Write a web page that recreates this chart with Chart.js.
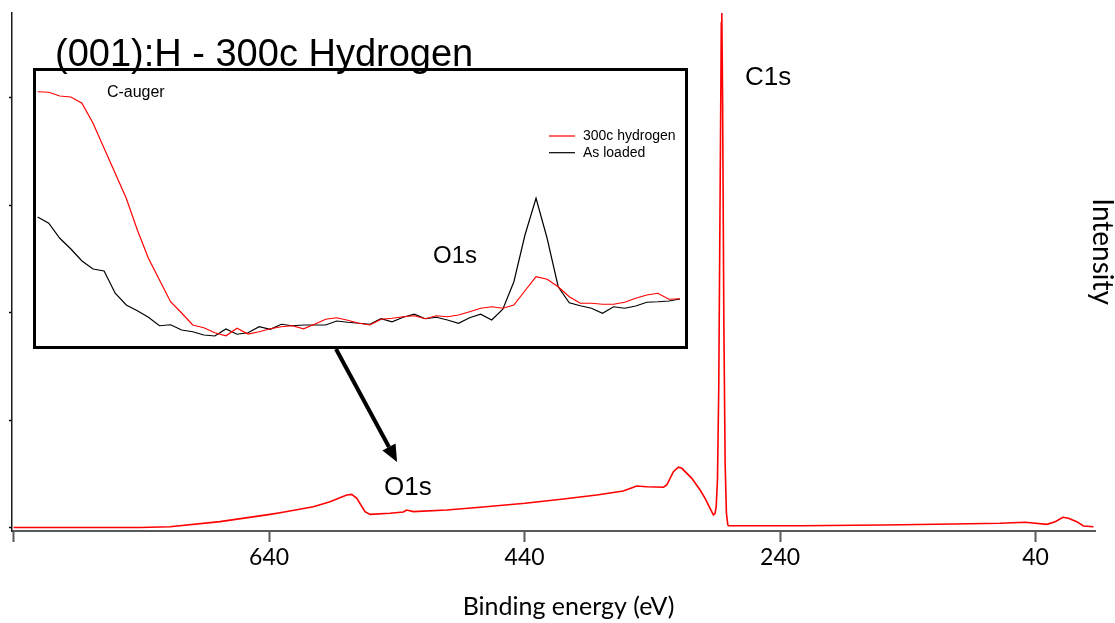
<!DOCTYPE html>
<html>
<head>
<meta charset="utf-8">
<script src="https://cdn.jsdelivr.net/npm/chart.js@4.4.0/dist/chart.umd.min.js"></script>
<style>
  body { margin: 0; background: #fff; }
  #wrap { position: relative; width: 1115px; height: 623px; }
  #inset {
    position: absolute; left: 33px; top: 68px; width: 655px; height: 281px;
    border: 3px solid #000; box-sizing: border-box; background: #fff; z-index: 1;
  }
  #inset canvas { display: block; }
  #title {
    position: absolute; left: 55px; top: 34px; z-index: 2; white-space: nowrap;
    font: 38px/38px "Liberation Sans", Arial, sans-serif; color: #000;
  }
</style>
</head>
<body>
<div id="wrap">
  <canvas id="surveyChart" width="1115" height="623"></canvas>
  <div id="inset"><canvas id="insetChart" width="649" height="275"></canvas></div>
  <div id="title">(001):H - 300c Hydrogen</div>
</div>
<script>
// survey scan, 300c hydrogen (binding energy in eV, intensity in arb. units)
const energy = [840, 800, 760, 741, 717.5, 678.4, 639.2, 631.4, 605.3, 592.3,
  579.2, 575.3, 571.3, 564.9, 560.9, 545.3, 534.9, 532.2, 527, 500.9,
  474.8, 439.6, 409.6, 383.5, 362.7, 352.2, 344.3, 331.3, 328.7, 323.5,
  319.6, 316.9, 309.1, 302.6, 298.7, 294.8, 292.2, 290.9, 290, 289,
  288, 287, 286, 285.6, 285, 284, 283, 282, 281, 280.5,
  224.3, 159.1, 104.3, 67.8, 48.2, 31.2, 24.7, 18.6, 14.3, 7.8,
  2.6, -5.3];
const intensity = [0.4, 0.4, 0.4, 0.5, 1.2, 5.9, 12.7, 14.2, 19.8, 24.5,
  30.7, 31.3, 27.6, 15.2, 12.7, 13.7, 14.9, 16.7, 15.2, 16.7,
  19.3, 23.0, 27.0, 30.7, 34.4, 39.1, 38.4, 37.9, 40.0, 52.4,
  56.5, 55.5, 46.2, 35.3, 27.6, 18.3, 12.1, 13.7, 20, 45,
  130, 300, 470, 479, 400, 190, 60, 14, 3.5, 2.1,
  2.1, 2.8, 3.7, 4.4, 5.3, 3.4, 5.9, 10.0, 9.0, 5.9,
  1.9, 1.2];

const xTicks = [840, 640, 440, 240, 40];
const xTickLabels = ['', '640', '440', '240', '40'];
const yTicks = [0, 100, 200, 300, 400];

// close-up around O1s, both samples
const insetEnergy = [622, 620, 618, 616, 614, 612, 610, 608, 606, 604,
  602, 600, 598, 596, 594, 592, 590, 588, 586, 584,
  582, 580, 578, 576, 574, 572, 570, 568, 566, 564,
  562, 560, 558, 556, 554, 552, 550, 548, 546, 544,
  542, 540, 538, 536, 534, 532, 530, 528, 526, 524,
  522, 520, 518, 516, 514, 512, 510, 508, 506];
const hydrogen300c = [101.7, 101.5, 100, 99.6, 97.1, 89.1, 79.1, 69.1, 59.1, 46.4,
  35.1, 26.4, 17.7, 13.2, 8.4, 7.3, 5.3, 4.1, 7.1, 4.8,
  5.7, 6.9, 7.7, 8.1, 6.9, 8.7, 10.7, 11.3, 10.3, 9.1,
  8.4, 10.7, 11.1, 11.7, 12.1, 10.9, 12.1, 11.7, 12.4, 13.7,
  15.1, 15.7, 15.1, 16.4, 22.1, 27.7, 26.7, 23.7, 19.7, 17.1,
  17.1, 16.7, 16.7, 17.5, 19.1, 20.4, 21.1, 18.7, 18.9];
const asLoaded = [51.6, 49.1, 43.1, 38.8, 34, 30.8, 30, 21.1, 16.4, 14.1,
  11.5, 8.1, 8.5, 6.4, 5.7, 4.4, 4, 6.8, 4.7, 5.3,
  7.7, 6.7, 8.7, 8.1, 8.4, 8.4, 8.4, 10, 9.5, 9.1,
  8.7, 10.9, 9.7, 11.5, 12.7, 10.9, 11.5, 10.4, 9.1, 11.3,
  12.7, 10.4, 14.7, 25.7, 44.4, 59.1, 43.1, 23.7, 17.3, 16.1,
  15.1, 13.1, 15.7, 15.1, 16, 17.5, 17.7, 18, 18.8];

const toPoints = (xs, ys) => xs.map((x, i) => ({ x, y: ys[i] }));

// peak names, the arrow and both axis names
const peakNotes = {
  id: 'peakNotes',
  afterDatasetsDraw(chart) {
    const { ctx, chartArea, scales: { x, y } } = chart;
    ctx.save();
    ctx.fillStyle = '#000';
    ctx.strokeStyle = '#000';
    ctx.font = '26px "Liberation Sans", Arial, sans-serif';
    ctx.fillText('C1s', x.getPixelForValue(267.4), y.getPixelForValue(412));
    ctx.fillText('O1s', x.getPixelForValue(550), y.getPixelForValue(30.7));

    // arrow from the close-up box down to the O1s region
    const x0 = x.getPixelForValue(587.6), y0 = y.getPixelForValue(166.5);
    const x1 = x.getPixelForValue(539.8), y1 = y.getPixelForValue(61.4);
    const ang = Math.atan2(y1 - y0, x1 - x0);
    const headLen = 17, headHalf = 7.5;
    const bx = x1 - headLen * Math.cos(ang), by = y1 - headLen * Math.sin(ang);
    ctx.lineWidth = 4;
    ctx.beginPath();
    ctx.moveTo(x0, y0);
    ctx.lineTo(bx, by);
    ctx.stroke();
    ctx.beginPath();
    ctx.moveTo(x1, y1);
    ctx.lineTo(bx + headHalf * Math.sin(ang), by - headHalf * Math.cos(ang));
    ctx.lineTo(bx - headHalf * Math.sin(ang), by + headHalf * Math.cos(ang));
    ctx.closePath();
    ctx.fill();

    // x axis name, sitting a little right of centre
    ctx.font = '25px Lato, sans-serif';
    ctx.textAlign = 'center';
    ctx.textBaseline = 'middle';
    ctx.fillText('Binding energy (eV)', (chartArea.left + chartArea.right) / 2 + 15, chart.height - 16);

    // vertical axis name on the right
    ctx.translate(chartArea.right + 7, y.getPixelForValue(257));
    ctx.rotate(Math.PI / 2);
    ctx.font = '28px Lato, sans-serif';
    ctx.fillText('Intensity', 0, 0);
    ctx.restore();
  }
};

new Chart(document.getElementById('surveyChart'), {
  type: 'line',
  data: {
    datasets: [{
      label: '300c hydrogen',
      data: toPoints(energy, intensity),
      borderColor: '#ff0000',
      borderWidth: 1.6,
      pointRadius: 0,
      tension: 0,
      fill: false
    }]
  },
  options: {
    responsive: false,
    animation: false,
    layout: { padding: { left: 8, top: 13, right: 20, bottom: 0 } },
    plugins: { legend: { display: false }, tooltip: { enabled: false } },
    scales: {
      x: {
        type: 'linear',
        reverse: true,
        min: -6.5,
        max: 841.2,
        afterBuildTicks: s => { s.ticks = xTicks.map(v => ({ value: v })); },
        afterFit: s => { s.height = 92; },
        ticks: {
          autoSkip: false,
          maxRotation: 0,
          padding: 2,
          color: '#000',
          font: { family: 'Lato', size: 23 },
          callback: (v, i) => xTickLabels[i]
        },
        grid: { drawOnChartArea: false, tickLength: 11, color: '#595959', tickWidth: 2 },
        border: { color: '#595959', width: 2 }
      },
      y: {
        min: -2.8,
        max: 479,
        afterBuildTicks: s => { s.ticks = yTicks.map(v => ({ value: v })); },
        afterFit: s => { s.width = 4; },
        ticks: { display: false },
        grid: { drawOnChartArea: false, tickLength: 3, color: '#000', tickWidth: 1.5 },
        border: { color: '#1a1a1a', width: 1.5 }
      }
    }
  },
  plugins: [peakNotes]
});

// labels and legend inside the close-up
const insetNotes = {
  id: 'insetNotes',
  afterDatasetsDraw(chart) {
    const { ctx, chartArea, scales: { x, y } } = chart;
    ctx.save();
    ctx.fillStyle = '#000';
    ctx.font = '16px "Liberation Sans", Arial, sans-serif';
    ctx.fillText('C-auger', x.getPixelForValue(609.5), y.getPixelForValue(99.5));
    ctx.font = '24px "Liberation Sans", Arial, sans-serif';
    ctx.fillText('O1s', x.getPixelForValue(550.6), y.getPixelForValue(33.2));

    ctx.font = '14px "Liberation Sans", Arial, sans-serif';
    ctx.textBaseline = 'middle';
    const lx = chartArea.right - 136;
    chart.data.datasets.forEach((ds, i) => {
      const ly = chartArea.top + 65 + i * 16.7;
      ctx.strokeStyle = ds.borderColor;
      ctx.lineWidth = 1.2;
      ctx.beginPath();
      ctx.moveTo(lx, ly);
      ctx.lineTo(lx + 26, ly);
      ctx.stroke();
      ctx.fillText(ds.label, lx + 34, ly);
    });
    ctx.restore();
  }
};

new Chart(document.getElementById('insetChart'), {
  type: 'line',
  data: {
    datasets: [
      { label: '300c hydrogen', data: toPoints(insetEnergy, hydrogen300c), borderColor: '#ff0000', borderWidth: 1.2, pointRadius: 0, tension: 0 },
      { label: 'As loaded', data: toPoints(insetEnergy, asLoaded), borderColor: '#000000', borderWidth: 1.2, pointRadius: 0, tension: 0 }
    ]
  },
  options: {
    responsive: false,
    animation: false,
    layout: { padding: 0 },
    plugins: { legend: { display: false }, tooltip: { enabled: false } },
    scales: {
      x: { type: 'linear', reverse: true, min: 505.1, max: 622.3, display: false },
      y: { min: 0, max: 110, display: false }
    }
  },
  plugins: [insetNotes]
});
</script>
</body>
</html>
